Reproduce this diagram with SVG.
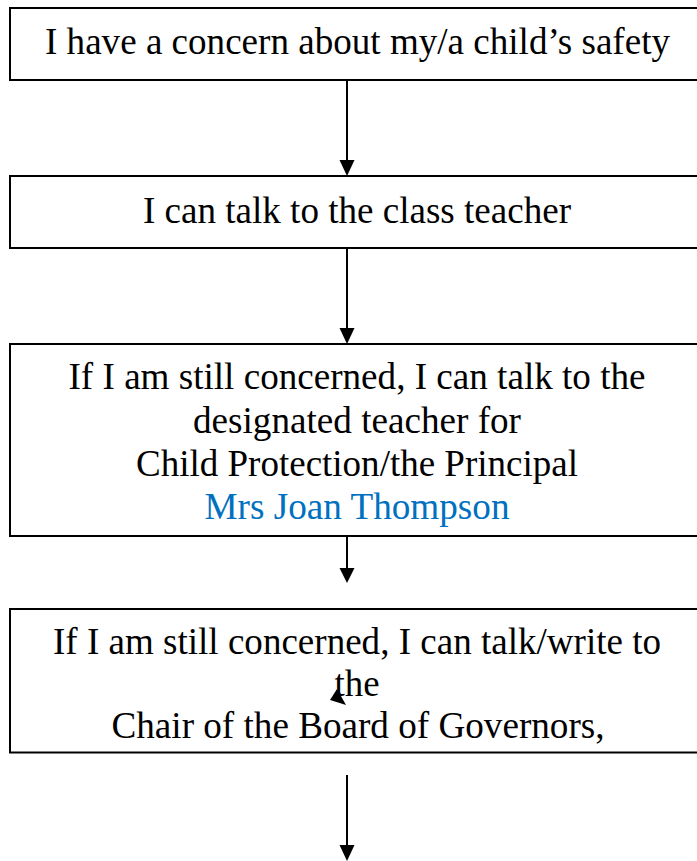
<svg xmlns="http://www.w3.org/2000/svg" width="697" height="861" viewBox="0 0 697 861">
<style>
.box{fill:#fff;stroke:#000;stroke-width:2}
.t{font-family:'Liberation Serif','DejaVu Serif',serif;font-size:38px;fill:#000;text-anchor:middle}
.blue{fill:#0070C0}
.ln{stroke:#000;stroke-width:2;fill:none}
.hd{fill:#000}
</style>
<rect width="697" height="861" fill="#fff"/>
<g id="node1">
<rect class="box" x="10" y="8" width="688" height="72"/>
<text class="t" x="357.5" y="54" textLength="625" lengthAdjust="spacingAndGlyphs">I have a concern about my/a child’s safety</text>
</g>
<g id="node2">
<rect class="box" x="10" y="176" width="688" height="72"/>
<text class="t" x="357" y="222.5" textLength="428" lengthAdjust="spacingAndGlyphs">I can talk to the class teacher</text>
</g>
<g id="node3">
<rect class="box" x="10" y="344" width="688" height="192"/>
<text class="t" x="357" y="389" textLength="577" lengthAdjust="spacingAndGlyphs">If I am still concerned, I can talk to the</text>
<text class="t" x="357" y="432.5" textLength="328" lengthAdjust="spacingAndGlyphs">designated teacher for</text>
<text class="t" x="357" y="476" textLength="442" lengthAdjust="spacingAndGlyphs">Child Protection/the Principal</text>
<text class="t blue" x="357" y="519" textLength="305" lengthAdjust="spacingAndGlyphs">Mrs Joan Thompson</text>
</g>
<g id="node4">
<rect class="box" x="10" y="609" width="688" height="143.5"/>
<text class="t" x="357" y="654" textLength="608" lengthAdjust="spacingAndGlyphs">If I am still concerned, I can talk/write to</text>
<text class="t" x="357" y="696" textLength="45" lengthAdjust="spacingAndGlyphs">the</text>
<text class="t" x="358" y="738" textLength="493" lengthAdjust="spacingAndGlyphs">Chair of the Board of Governors,</text>
</g>
<g id="connectors">
<line class="ln" x1="347" y1="81" x2="347" y2="161"/>
<polygon class="hd" points="339.5,160 354.5,160 347,176"/>
<line class="ln" x1="347" y1="249" x2="347" y2="329"/>
<polygon class="hd" points="339.5,328 354.5,328 347,344"/>
<line class="ln" x1="347" y1="537" x2="347" y2="569"/>
<polygon class="hd" points="339.5,568 354.5,568 347,583"/>
<line class="ln" x1="347" y1="775" x2="347" y2="846"/>
<polygon class="hd" points="339.5,845 354.5,845 347,861"/>
<polygon class="hd" points="330,700 337,689 346,705"/>
</g>
</svg>
